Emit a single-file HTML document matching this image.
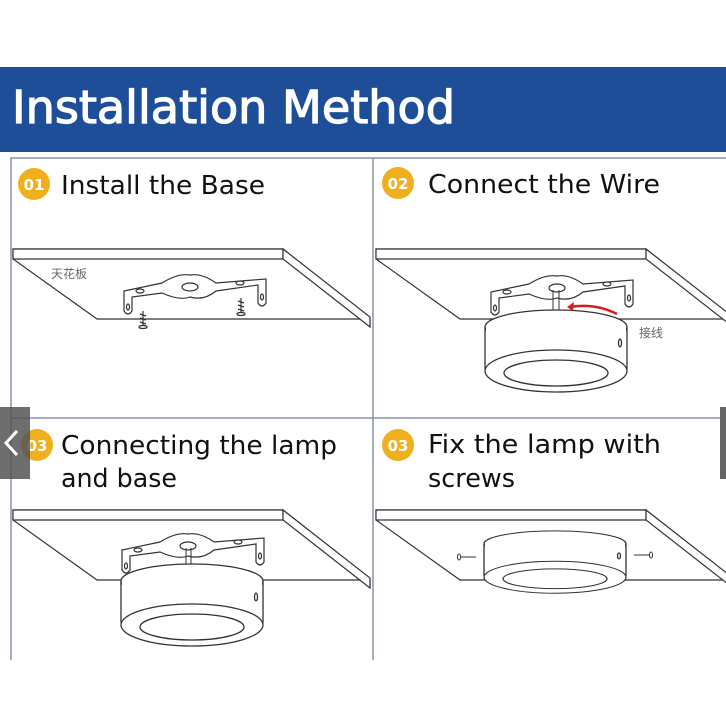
<!DOCTYPE html>
<html><head><meta charset="utf-8"><style>
html,body{margin:0;padding:0;background:#fff;}
svg{display:block;}
</style></head><body>
<svg width="726" height="726" viewBox="0 0 726 726" xmlns="http://www.w3.org/2000/svg">
<defs>
<g id="bracket" fill="#fff" stroke="#333" stroke-width="1.2">
  <path d="M-66,4 L-66,24 Q-62,30 -58,24 L-58,10 L-28,6 Q-10,14 0,10 Q14,14 26,4 L68,-2 L68,16 Q72,22 76,16 L76,-8 L26,-4 Q12,-14 0,-12 Q-12,-14 -28,-4 Z"/>
  <ellipse cx="0" cy="0" rx="8" ry="4"/>
  <ellipse cx="-50" cy="4" rx="4" ry="2"/>
  <ellipse cx="50" cy="-4" rx="4" ry="2"/>
  <ellipse cx="-62" cy="20" rx="1.5" ry="3"/>
  <ellipse cx="72" cy="10" rx="1.5" ry="3"/>
</g>
<g id="lamp" fill="#fff" stroke="#333" stroke-width="1.3">
  <ellipse cx="0" cy="-20" rx="71" ry="17"/>
  <rect x="-70" y="-20" width="140" height="40" stroke="none"/>
  <path d="M-71,-20 L-71,22 M71,-20 L71,22" fill="none"/>
  <ellipse cx="0" cy="24" rx="71" ry="21"/>
  <ellipse cx="0" cy="26" rx="52" ry="13"/>
  <ellipse cx="64" cy="-4" rx="1.5" ry="4" fill="none"/>
</g>
<g id="slab" fill="#fff" stroke="#333" stroke-width="1.2">
  <path d="M0,0 L270,0 L357,69 L357,78 L357,70 L84,70 L0,10 Z"/>
  <path d="M0,0 L270,0 L270,10 L0,10 Z"/>
  <path d="M270,0 L357,68 L357,78 L270,10 Z"/>
</g>
</defs>

<rect x="0" y="67" width="726" height="85" fill="#1f4e98"/>
<text x="12" y="123" font-family="'DejaVu Sans','Liberation Sans',sans-serif" font-size="45" fill="#fff" stroke="#fff" stroke-width="1.2" textLength="443" lengthAdjust="spacingAndGlyphs">Installation Method</text>

<g stroke="#8794a8" stroke-width="1.5" fill="none">
  <path d="M11,660 L11,158 L726,158"/>
  <path d="M373,158 L373,660"/>
  <path d="M11,418 L726,418"/>
</g>

<g font-family="'DejaVu Sans','Liberation Sans',sans-serif" font-size="26" fill="#111">
  <circle cx="34" cy="184" r="16" fill="#f0b01e"/>
  <text x="34" y="190" font-size="15" font-weight="bold" fill="#fff" text-anchor="middle">01</text>
  <text x="61" y="194" textLength="204" lengthAdjust="spacingAndGlyphs">Install the Base</text>
  <circle cx="398" cy="183" r="16" fill="#f0b01e"/>
  <text x="398" y="189" font-size="15" font-weight="bold" fill="#fff" text-anchor="middle">02</text>
  <text x="428" y="193" textLength="232" lengthAdjust="spacingAndGlyphs">Connect the Wire</text>
  <circle cx="37" cy="445" r="16" fill="#f0b01e"/>
  <text x="37" y="451" font-size="15" font-weight="bold" fill="#fff" text-anchor="middle">03</text>
  <text x="61" y="454" textLength="276" lengthAdjust="spacingAndGlyphs">Connecting the lamp</text>
  <text x="61" y="487" textLength="116" lengthAdjust="spacingAndGlyphs">and base</text>
  <circle cx="398" cy="445" r="16" fill="#f0b01e"/>
  <text x="398" y="451" font-size="15" font-weight="bold" fill="#fff" text-anchor="middle">03</text>
  <text x="428" y="453" textLength="233" lengthAdjust="spacingAndGlyphs">Fix the lamp with</text>
  <text x="428" y="487" textLength="87" lengthAdjust="spacingAndGlyphs">screws</text>
</g>

<!-- panel 1 -->
<use href="#slab" x="13" y="249"/>
<text x="51" y="278" font-family="'Noto Sans CJK SC',sans-serif" font-size="12" fill="#666">天花板</text>
<use href="#bracket" x="190" y="287"/>
<g stroke="#333" stroke-width="1.2" fill="#fff">
  <path d="M143,311 L143,326 M140,314 L146,316 M140,318 L146,320 M140,322 L146,324"/>
  <ellipse cx="143" cy="327" rx="4" ry="1.5"/>
  <path d="M241,298 L241,313 M238,301 L244,303 M238,305 L244,307 M238,309 L244,311"/>
  <ellipse cx="241" cy="314" rx="4" ry="1.5"/>
</g>

<!-- panel 2 -->
<use href="#slab" x="376" y="249"/>
<use href="#bracket" x="557" y="288"/>
<path d="M553,290 L553,322 M559,290 L559,322" stroke="#333" stroke-width="1" fill="none"/>
<use href="#lamp" x="556" y="347"/>
<path d="M617,314 Q595,303 570,307" stroke="#d42020" stroke-width="2.5" fill="none"/>
<path d="M567,307 L574,302 L573,311 Z" fill="#d42020"/>
<text x="639" y="337" font-family="'Noto Sans CJK SC',sans-serif" font-size="12" fill="#666">接线</text>

<!-- panel 3 -->
<use href="#slab" x="13" y="510"/>
<use href="#bracket" x="188" y="546"/>
<path d="M186,548 L186,569 M191,548 L191,569" stroke="#333" stroke-width="1" fill="none"/>
<use href="#lamp" x="192" y="601"/>

<!-- panel 4 -->
<use href="#slab" x="376" y="510"/>
<use href="#lamp" transform="translate(555,559) scale(1,0.76)"/>
<g stroke="#333" stroke-width="1" fill="none">
  <path d="M460,557 L476,557"/><ellipse cx="459" cy="557" rx="1.5" ry="3"/>
  <path d="M634,555 L650,555"/><ellipse cx="651" cy="555" rx="1.5" ry="3"/>
</g>

<!-- overlays -->
<rect x="0" y="407" width="30" height="72" fill="#555" opacity="0.85"/>
<path d="M17,431 L6,443 L17,455" stroke="#fff" stroke-width="3" fill="none"/>
<rect x="720" y="407" width="6" height="72" fill="#666"/>
</svg>
</body></html>
